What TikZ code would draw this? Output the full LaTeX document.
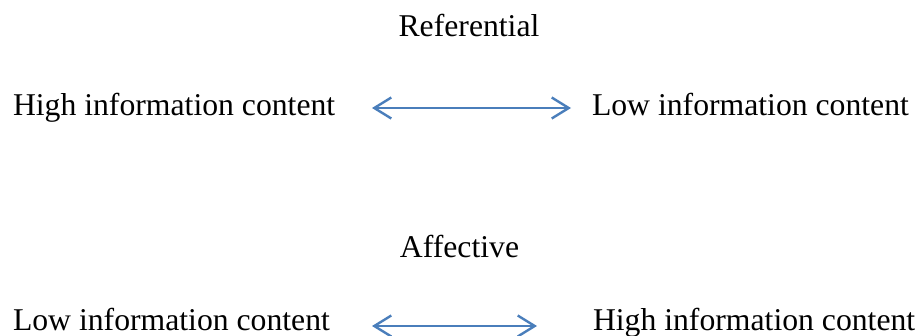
\documentclass[tikz,border=0pt]{standalone}
\usepackage{fontspec}
\setmainfont{Liberation Serif}
\usetikzlibrary{arrows.meta}
\definecolor{arrowblue}{HTML}{4A7EBB}
\tikzset{
  lbl/.style={inner sep=0pt, outer sep=0pt, font=\fontsize{31.7}{36}\selectfont},
  dblarrow/.style={draw=arrowblue, line width=2.4pt,
    {Straight Barb[length=17pt,width=21pt,line width=2.4pt]}-{Straight Barb[length=17pt,width=21pt,line width=2.4pt]}}
}
\begin{document}
\begin{tikzpicture}[x=1pt,y=1pt]
\useasboundingbox (0,0) rectangle (921,-335);
\node[lbl, anchor=base] (ref) at (469,-36) {Referential};
\node[lbl, anchor=base west] (hi1) at (13,-115) {High information content};
\node[lbl, anchor=base west] (lo1) at (592,-115) {Low information content};
\coordinate (a1l) at (372,-108);
\coordinate (a1r) at (571,-108);
\draw[dblarrow] (a1l) -- (a1r);
\node[lbl, anchor=base] (aff) at (459.5,-257) {Affective};
\node[lbl, anchor=base west] (lo2) at (13,-330) {Low information content};
\node[lbl, anchor=base west] (hi2) at (593,-330) {High information content};
\coordinate (a2l) at (372,-326);
\coordinate (a2r) at (537,-326);
\draw[dblarrow] (a2l) -- (a2r);
\end{tikzpicture}
\end{document}
